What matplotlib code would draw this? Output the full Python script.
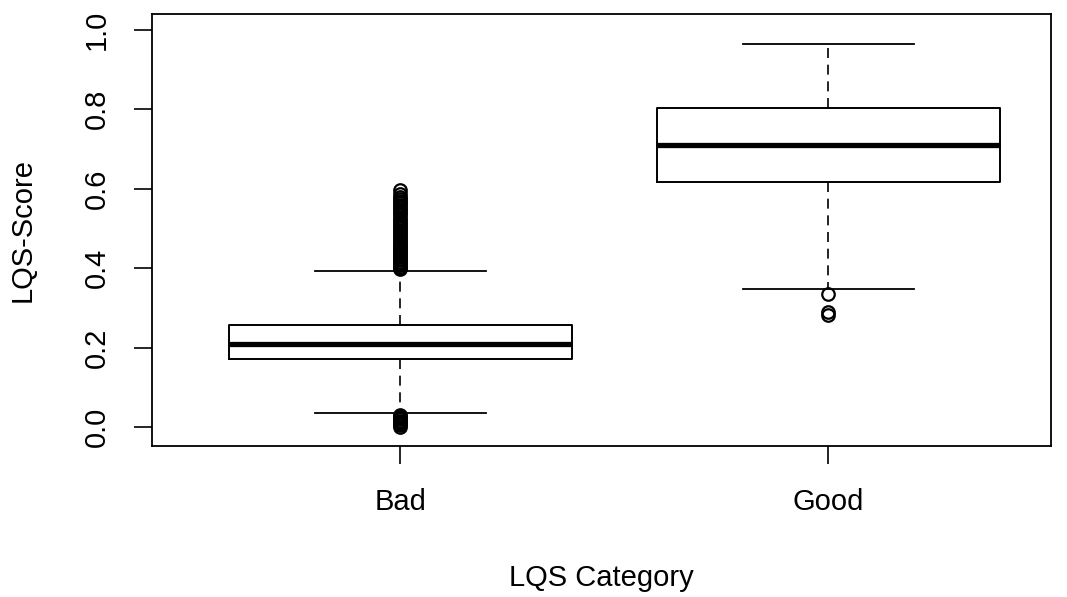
import matplotlib
matplotlib.use("Agg")
import matplotlib.pyplot as plt

plt.rcParams['font.family'] = ['Liberation Sans', 'DejaVu Sans']

categories = ["Bad", "Good"]
q1 = [0.171, 0.617]
med = [0.209, 0.710]
q3 = [0.257, 0.804]
whislo = [0.035, 0.348]
whishi = [0.393, 0.965]
fliers_bad = [0.397, 0.400, 0.404, 0.408, 0.412, 0.416, 0.420, 0.424, 0.428,
              0.432, 0.436, 0.440, 0.444, 0.448, 0.452, 0.456, 0.460, 0.465,
              0.470, 0.475, 0.480, 0.485, 0.490, 0.495, 0.500, 0.505, 0.510,
              0.515, 0.520, 0.527, 0.533, 0.540, 0.545, 0.550, 0.555, 0.560,
              0.565, 0.570, 0.575, 0.580, 0.587, 0.597,
              0.001, 0.004, 0.007, 0.010, 0.013, 0.016, 0.019, 0.022, 0.025,
              0.028, 0.031]
fliers_good = [0.335, 0.290, 0.283]
fliers = [fliers_bad, fliers_good]
yticks = [0.0, 0.2, 0.4, 0.6, 0.8, 1.0]

stats = []
for i in range(len(categories)):
    stats.append(dict(label=categories[i], q1=q1[i], med=med[i], q3=q3[i],
                      whislo=whislo[i], whishi=whishi[i], fliers=fliers[i]))

fig = plt.figure(figsize=(10.67, 5.97), dpi=100)
ax = fig.add_axes([0.1425, 0.253, 0.8425, 0.7235])

# R-style boxplot: dashed whiskers, thick median, open circle outliers
ax.bxp(stats, positions=[1, 2], widths=0.8, capwidths=0.4,
       boxprops=dict(color='black', linewidth=1.4),
       medianprops=dict(color='black', linewidth=3.8, solid_capstyle='butt'),
       whiskerprops=dict(color='black', linewidth=1.2, linestyle=(0, (6, 4))),
       capprops=dict(color='black', linewidth=1.3),
       flierprops=dict(marker='o', markerfacecolor='none', markeredgecolor='black',
                       markersize=9, markeredgewidth=1.6))

ax.set_xlim(0.42, 2.52)
ax.set_ylim(-0.048, 1.040)
ax.set_xticks([1, 2])
ax.set_xticklabels(categories)
ax.set_yticks(yticks)
ax.set_yticklabels(["0.0", "0.2", "0.4", "0.6", "0.8", "1.0"], rotation=90, va='center')
ax.tick_params(axis='both', length=13, width=1.2, labelsize=21, pad=17, colors='black')
for s in ax.spines.values():
    s.set_linewidth(1.3)

ax.set_xlabel("LQS Category", fontsize=21, labelpad=35)
ax.set_ylabel("LQS-Score", fontsize=21, labelpad=33)

fig.savefig("out.png", dpi=100)
